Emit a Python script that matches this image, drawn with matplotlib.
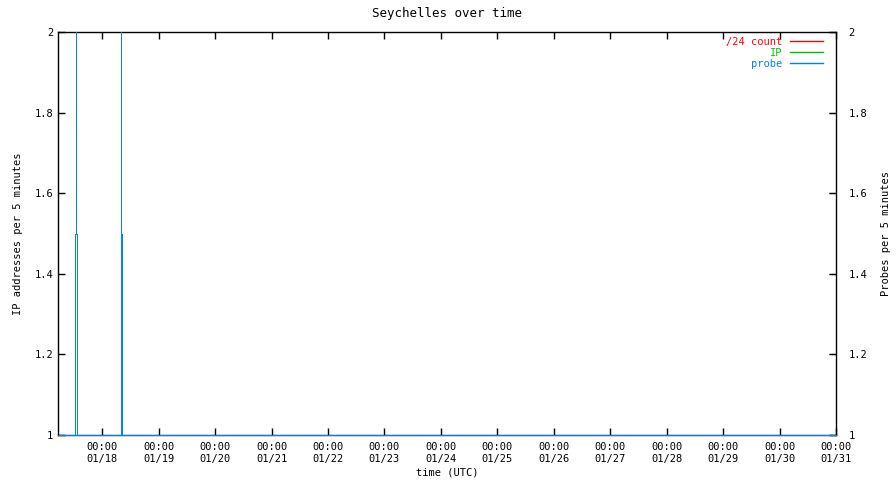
import matplotlib
matplotlib.use("Agg")
import matplotlib.pyplot as plt
import matplotlib.dates as mdates
from datetime import datetime

# time range shown
t_start = datetime(2021, 1, 17, 5, 10)
t_end = datetime(2021, 1, 31, 0, 0)

# counts per 5 minutes (value 1 holds across the whole range)
count24_times = [t_start, t_end]
count24_vals = [1, 1]
ip_times = [t_start, t_end]
ip_vals = [1, 1]

# probes per 5 minutes (each value holds until the next sample)
probe_times = [t_start,
               datetime(2021, 1, 17, 12, 25), datetime(2021, 1, 17, 12, 50),
               datetime(2021, 1, 17, 12, 55), datetime(2021, 1, 17, 13, 15),
               datetime(2021, 1, 18, 7, 55), datetime(2021, 1, 18, 8, 0),
               datetime(2021, 1, 18, 8, 25),
               t_end]
probe_vals = [1, 1.5, 2, 1.5, 1, 2, 1.5, 1, 1]

tick_days = [datetime(2021, 1, d) for d in range(18, 32)]
yticks = [1, 1.2, 1.4, 1.6, 1.8, 2]
ylabels = ["1", "1.2", "1.4", "1.6", "1.8", "2"]

plt.rcParams['font.family'] = ['DejaVu Sans Mono']
plt.rcParams['font.size'] = 7.5

fig = plt.figure(figsize=(8.96, 4.8), dpi=100)
ax = fig.add_axes([58/896, 45/480, 778/896, 403/480])

ax2 = ax.twinx()
ax2.set_ylim(1, 2)
ax2.set_yticks(yticks)
ax2.set_yticklabels(ylabels)
ax2.tick_params(direction="in", length=5, pad=9)
ax2.set_ylabel("Probes per 5 minutes", labelpad=10)
for s in ax2.spines.values():
    s.set_visible(False)
# keep the data axes on top so the value-1 line shows over the bottom edge
ax.set_zorder(ax2.get_zorder() + 1)
ax.patch.set_visible(False)

ax.plot(count24_times, count24_vals, color="#ff0000", lw=0.7, label="/24 count",
        antialiased=False, clip_on=False, zorder=3)
ax.plot(ip_times, ip_vals, color="#00c000", lw=0.7, label="IP",
        antialiased=False, clip_on=False, zorder=3)
ax.plot(probe_times, probe_vals, color="#0080ff", lw=0.7, label="probe",
        drawstyle="steps-post", antialiased=False, clip_on=False, zorder=3)

ax.set_xlim(t_start, t_end)
ax.set_ylim(1, 2)
ax.set_xticks(tick_days)
ax.xaxis.set_major_formatter(mdates.DateFormatter("%H:%M\n%m/%d"))
ax.set_yticks(yticks)
ax.set_yticklabels(ylabels)
ax.tick_params(direction="in", length=5, top=True, right=True, width=1)
ax.tick_params(axis="x", pad=5)
for s in ax.spines.values():
    s.set_linewidth(1)

ax.set_title("Seychelles over time", pad=11)
ax.set_xlabel("time (UTC)", labelpad=3)
ax.set_ylabel("IP addresses per 5 minutes", labelpad=8)

leg = ax.legend(loc="upper right", bbox_to_anchor=(0.983, 0.988), frameon=False,
                markerfirst=False, handlelength=3.1, handletextpad=0.8,
                labelspacing=0.1, borderaxespad=0, borderpad=0)
for txt, ln, c in zip(leg.get_texts(), leg.get_lines(), ["#ff0000", "#00c000", "#0080ff"]):
    txt.set_color(c)
    ln.set_linewidth(1.0)

fig.savefig("out.png", dpi=100)
